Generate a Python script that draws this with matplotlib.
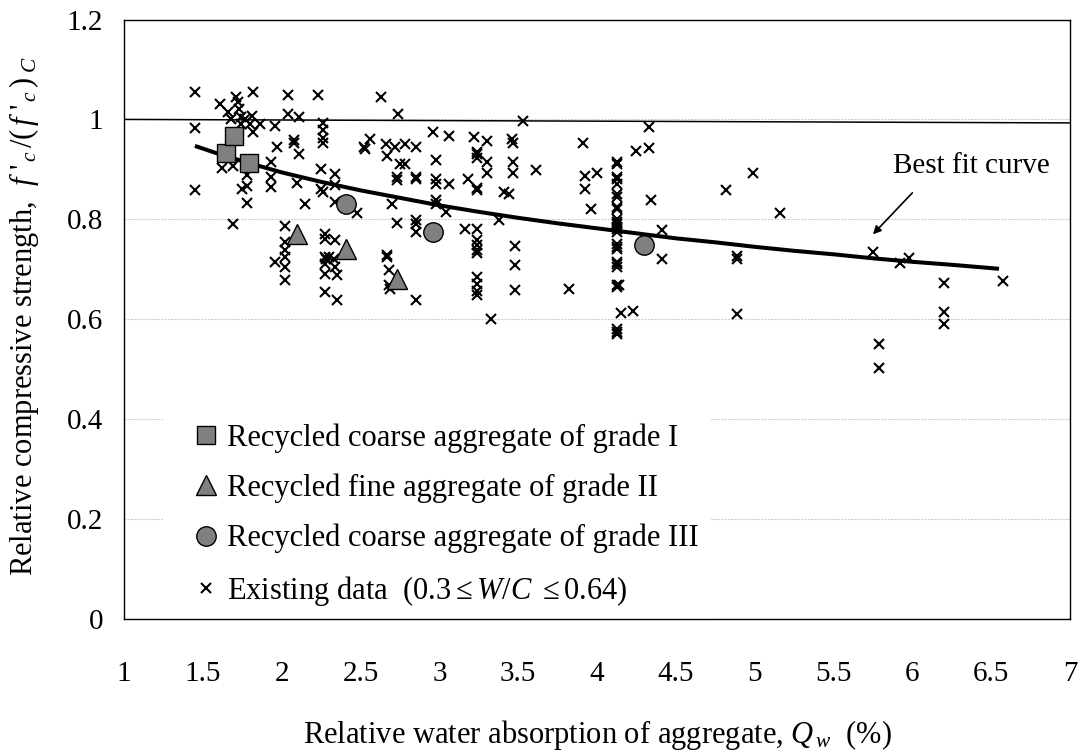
import matplotlib
matplotlib.use("Agg")
import matplotlib.pyplot as plt

plt.rcParams['font.family'] = ['Liberation Serif', 'DejaVu Serif']
plt.rcParams['mathtext.fontset'] = 'custom'
plt.rcParams['mathtext.rm'] = 'Liberation Serif'
plt.rcParams['mathtext.it'] = 'Liberation Serif:italic'

# ---------------- data ----------------
x_ticks = [1, 1.5, 2, 2.5, 3, 3.5, 4, 4.5, 5, 5.5, 6, 6.5, 7]
x_tick_labels = ["1", "1.5", "2", "2.5", "3", "3.5", "4", "4.5", "5", "5.5", "6", "6.5", "7"]
y_ticks = [0, 0.2, 0.4, 0.6, 0.8, 1.0, 1.2]
y_tick_labels = ["0", "0.2", "0.4", "0.6", "0.8", "1", "1.2"]

grade1_x = [1.65, 1.70, 1.79]
grade1_y = [0.933, 0.966, 0.912]
grade2_x = [2.10, 2.41, 2.73]
grade2_y = [0.770, 0.741, 0.681]
grade3_x = [2.41, 2.96, 4.30]
grade3_y = [0.830, 0.775, 0.749]

existing_x = [
    1.45, 1.45, 1.45,
    1.61, 1.62, 1.66, 1.68, 1.69, 1.69, 1.71, 1.72, 1.73, 1.74, 1.74, 1.75, 1.77,
    1.78, 1.78, 1.78, 1.80, 1.82, 1.81, 1.82, 1.86, 1.93, 1.93, 1.93, 1.96, 1.97, 1.96,
    2.02, 2.02, 2.02, 2.02, 2.02, 2.02,
    2.04, 2.04, 2.08, 2.08, 2.10, 2.11, 2.11, 2.15,
    2.23, 2.25, 2.25, 2.26, 2.26, 2.26, 2.26, 2.26, 2.275, 2.275, 2.275, 2.28, 2.275,
    2.275, 2.275, 2.30, 2.34, 2.34, 2.34, 2.34, 2.33, 2.34, 2.35, 2.35,
    2.48, 2.52, 2.53, 2.56, 2.63,
    2.66, 2.67, 2.67, 2.67, 2.68, 2.68, 2.685,
    2.70, 2.72, 2.73, 2.73, 2.73, 2.74, 2.75, 2.78, 2.78,
    2.85, 2.85, 2.85, 2.85, 2.85, 2.85, 2.85,
    2.96, 2.98, 2.98, 2.98, 2.98, 2.98, 3.04, 3.06, 3.06,
    3.18, 3.16, 3.22, 3.24, 3.24, 3.24, 3.24, 3.24, 3.24, 3.24, 3.24, 3.24, 3.24,
    3.24, 3.24, 3.24, 3.24,
    3.30, 3.30, 3.30, 3.33, 3.38, 3.41, 3.44,
    3.46, 3.47, 3.47, 3.47, 3.48, 3.48, 3.48,
    3.53, 3.61, 3.82, 3.91, 3.925, 3.925, 3.96, 4.00,
    4.125, 4.125, 4.125, 4.125, 4.125, 4.125, 4.125, 4.125, 4.125, 4.125, 4.125, 4.125,
    4.125, 4.125, 4.125, 4.125, 4.125, 4.125, 4.125, 4.125, 4.125, 4.125, 4.125, 4.125,
    4.125, 4.125,
    4.14, 4.15, 4.23, 4.245, 4.33, 4.33, 4.34, 4.41, 4.41,
    4.82, 4.89, 4.89, 4.89, 4.99, 5.16, 5.75, 5.79, 5.79, 5.92, 5.98,
    6.20, 6.20, 6.20, 6.575,
]
existing_y = [
    1.055, 0.982, 0.858,
    1.030, 0.902, 1.015, 1.000, 0.906, 0.790, 1.045, 1.035, 1.020, 1.005, 0.990, 0.861, 1.000,
    0.888, 0.866, 0.833, 0.990, 1.055, 1.007, 0.974, 0.990, 0.915, 0.885, 0.865, 0.987, 0.945, 0.715,
    0.787, 0.755, 0.738, 0.725, 0.705, 0.678,
    1.048, 1.011, 0.959, 0.953, 0.873, 1.005, 0.931, 0.830,
    1.048, 0.901, 0.861, 0.855, 0.993, 0.979, 0.962, 0.952, 0.771, 0.761, 0.725, 0.720, 0.711,
    0.691, 0.655, 0.725, 0.891, 0.868, 0.835, 0.758, 0.721, 0.705, 0.688, 0.638,
    0.813, 0.945, 0.940, 0.960, 1.044,
    0.950, 0.926, 0.728, 0.725, 0.698, 0.668, 0.661,
    0.831, 0.945, 0.885, 0.878, 0.793, 1.011, 0.910, 0.910, 0.950,
    0.945, 0.885, 0.880, 0.798, 0.791, 0.775, 0.638,
    0.974, 0.918, 0.881, 0.871, 0.838, 0.831, 0.815, 0.870, 0.967,
    0.881, 0.781, 0.964, 0.935, 0.930, 0.923, 0.863, 0.859, 0.781, 0.758, 0.748, 0.738, 0.733,
    0.685, 0.671, 0.656, 0.648,
    0.957, 0.915, 0.893, 0.601, 0.799, 0.855, 0.851,
    0.960, 0.952, 0.915, 0.893, 0.746, 0.709, 0.658,
    0.996, 0.898, 0.661, 0.952, 0.886, 0.861, 0.821, 0.893,
    0.915, 0.910, 0.885, 0.880, 0.870, 0.851, 0.845, 0.825, 0.820, 0.800, 0.795, 0.790,
    0.785, 0.781, 0.775, 0.751, 0.745, 0.740, 0.715, 0.710, 0.705, 0.668, 0.665, 0.580,
    0.575, 0.570,
    0.668, 0.613, 0.617, 0.936, 0.984, 0.942, 0.838, 0.778, 0.721,
    0.858, 0.727, 0.720, 0.610, 0.893, 0.813, 0.735, 0.550, 0.503, 0.713, 0.723,
    0.673, 0.615, 0.590, 0.677,
]

fit_x = [1.45, 1.6, 1.8, 2.0, 2.25, 2.5, 2.75, 3.0, 3.25, 3.5, 3.75, 4.0, 4.25,
         4.5, 4.75, 5.0, 5.25, 5.5, 5.75, 6.0, 6.25, 6.55]
fit_y = [0.947, 0.931, 0.912, 0.894, 0.875, 0.858, 0.843, 0.828, 0.815, 0.803, 0.792,
         0.782, 0.772, 0.762, 0.754, 0.745, 0.737, 0.730, 0.722, 0.715, 0.709, 0.701]

ref_x = [1.0, 7.0]
ref_y = [1.0, 0.993]

# ---------------- figure ----------------
W, H = 1084, 754
fig = plt.figure(figsize=(W / 100, H / 100), dpi=100)
ax = fig.add_axes([124 / W, (H - 619) / H, (1070 - 124) / W, (619 - 19.5) / H])

ax.set_xlim(1, 7)
ax.set_ylim(0, 1.2)
ax.set_xticks(x_ticks)
ax.set_xticklabels(x_tick_labels)
ax.set_yticks(y_ticks)
ax.set_yticklabels(y_tick_labels)
ax.tick_params(axis='both', length=0, labelsize=21)
ax.tick_params(axis='x', pad=30)
ax.tick_params(axis='y', pad=15)
for s in ax.spines.values():
    s.set_linewidth(1.0)
    s.set_color('black')

ax.yaxis.grid(True, color='#cfcfcf', linewidth=0.8, linestyle=(0, (2, 1)))
ax.set_axisbelow(True)

ax.plot(ref_x, ref_y, color='black', linewidth=1.1, zorder=2)
ax.plot(fit_x, fit_y, color='black', linewidth=2.9, zorder=3, solid_capstyle='butt')

h4, = ax.plot(existing_x, existing_y, linestyle='none', marker='x', markersize=7,
              markeredgewidth=1.5, color='black', zorder=4,
              label=r"Existing data  (0.3$\leq$$W/C$ $\leq$0.64)")
h1, = ax.plot(grade1_x, grade1_y, linestyle='none', marker='s', markersize=13,
              markerfacecolor='#808080', markeredgecolor='black', markeredgewidth=1.0, zorder=5,
              label="Recycled coarse aggregate of grade I")
h2, = ax.plot(grade2_x, grade2_y, linestyle='none', marker='^', markersize=15,
              markerfacecolor='#808080', markeredgecolor='black', markeredgewidth=1.0, zorder=5,
              label="Recycled fine aggregate of grade II")
h3, = ax.plot(grade3_x, grade3_y, linestyle='none', marker='o', markersize=14,
              markerfacecolor='#808080', markeredgecolor='black', markeredgewidth=1.0, zorder=5,
              label="Recycled coarse aggregate of grade III")

leg = ax.legend(handles=[h1, h2, h3, h4], loc='upper left',
                bbox_to_anchor=(163 / W, 1 - 411 / H), bbox_transform=fig.transFigure,
                borderaxespad=0, frameon=True, fancybox=False, framealpha=1,
                facecolor='white', edgecolor='none', fontsize=22,
                handlelength=2.0, handletextpad=-0.31, borderpad=0.4,
                labelspacing=0.68, markerscale=1.0)
leg.set_zorder(2.4)

ax.set_xlabel(r"Relative water absorption of aggregate, $Q_{\,w}$  (%)", fontsize=22)
ax.set_ylabel(r"Relative compressive strength,  $f\ '_{\,c}\,/(\,f\ '_{\,c}\,)_{\;C}$", fontsize=22)
ax.xaxis.set_label_coords(0.5, -0.165)
ax.yaxis.set_label_coords(-0.088, 0.505)

ax.text(5.88, 0.893, "Best fit curve", fontsize=21, ha='left', va='baseline', zorder=6)
ax.annotate("", xy=(5.75, 0.770), xytext=(6.0, 0.853),
            arrowprops=dict(arrowstyle='-|>', color='black', lw=1.2,
                            mutation_scale=12, shrinkA=0, shrinkB=0))

fig.savefig("out.png", dpi=100)
